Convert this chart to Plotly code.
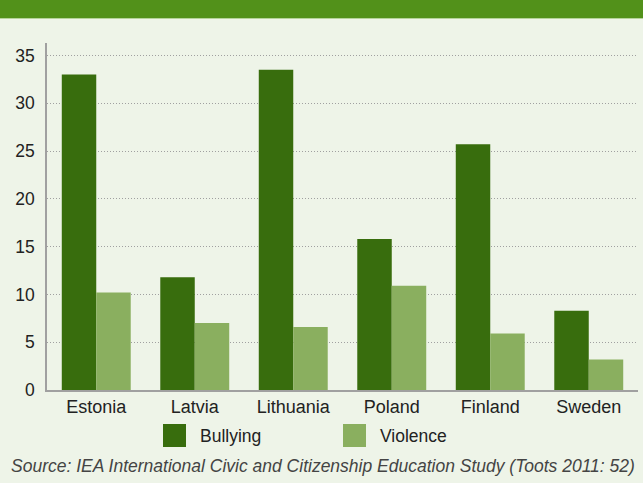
import plotly.graph_objects as go

countries = ["Estonia", "Latvia", "Lithuania", "Poland", "Finland", "Sweden"]
bullying = [33.0, 11.8, 33.5, 15.8, 25.7, 8.3]
violence = [10.2, 7.0, 6.6, 10.9, 5.9, 3.2]
series_names = ["Bullying", "Violence"]
series_colors = ["#386d0d", "#8aaf5f"]
y_ticks = [0, 5, 10, 15, 20, 25, 30, 35]
source_text = "Source: IEA International Civic and Citizenship Education Study (Toots 2011: 52)"

FONT = "Liberation Sans, Arial, sans-serif"
BG = "#eef4e8"

fig = go.Figure()
for name, vals, col in zip(series_names, [bullying, violence], series_colors):
    fig.add_trace(go.Bar(x=countries, y=vals, name=name, marker=dict(color=col, line=dict(width=0)),
                         showlegend=False))

W, H = 643, 483
ml, mr, mt, mb = 47, 5, 43, 93
ph = H - mt - mb
pw = W - ml - mr

def py(pix):  # pixel y from top -> paper y
    return (H - mb - pix) / ph

def px(pix):  # pixel x from left -> paper x
    return (pix - ml) / pw

shapes = [
    dict(type="rect", xref="paper", yref="paper", x0=px(0), x1=px(W), y0=py(18), y1=py(-2),
         fillcolor="#52911a", line=dict(width=0), layer="above"),
    dict(type="rect", xref="paper", yref="paper", x0=px(0), x1=px(W), y0=py(19), y1=py(18),
         fillcolor="#b5d39a", line=dict(width=0), layer="above"),
]
annotations = []
legend_x = [163, 343]
for i, (name, col) in enumerate(zip(series_names, series_colors)):
    x0 = legend_x[i]
    shapes.append(dict(type="rect", xref="paper", yref="paper", x0=px(x0), x1=px(x0 + 23),
                       y0=py(447), y1=py(424), fillcolor=col, line=dict(width=0)))
    annotations.append(dict(text=name, xref="paper", yref="paper", x=px(x0 + 35), y=py(436),
                            xanchor="left", yanchor="middle", showarrow=False,
                            font=dict(family=FONT, size=17.5, color="#222222")))
annotations.append(dict(text="<i>" + source_text + "</i>", xref="paper", yref="paper",
                        x=px(9), y=py(466), xanchor="left", yanchor="middle", showarrow=False,
                        font=dict(family=FONT, size=17.5, color="#444444")))

fig.update_layout(
    width=W, height=H,
    margin=dict(l=ml, r=mr, t=mt, b=mb),
    paper_bgcolor=BG, plot_bgcolor=BG,
    barmode="group", bargap=0.3, bargroupgap=0,
    shapes=shapes, annotations=annotations,
    font=dict(family=FONT, size=17, color="#222222"),
    xaxis=dict(showline=True, linecolor="#a0a0a0", linewidth=1.5, ticks="", showgrid=False,
               tickfont=dict(family=FONT, size=18, color="#222222"), range=[-0.5, 5.5]),
    yaxis=dict(range=[0, 36.3], tickvals=y_ticks, showline=True, linecolor="#a0a0a0", linewidth=1.5,
               showgrid=True, gridcolor="#a0a0a0", griddash="1px,2px", gridwidth=1, zeroline=False,
               ticks="", ticklabelstandoff=7,
               tickfont=dict(family=FONT, size=17.5, color="#222222")),
)

fig.write_html("out.html", config={"displayModeBar": False},
               post_script="document.body.style.margin='0';document.body.style.padding='0';")
